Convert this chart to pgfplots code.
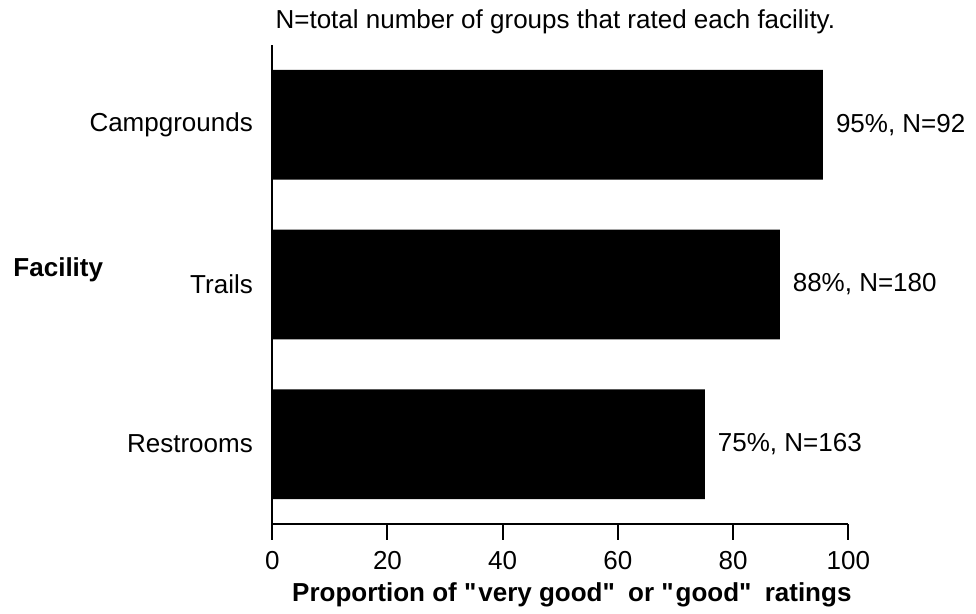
\documentclass[border=0pt]{standalone}
\usepackage{fontspec}
\setmainfont{Liberation Sans}
\usepackage{pgfplots}
\pgfplotsset{compat=1.18}
\begin{document}
\begin{tikzpicture}[font=\fontsize{13}{15.6}\selectfont]
\begin{axis}[
  name=ax,
  scale only axis,
  width=288pt, height=239.5pt,
  xbar,
  bar width=0.6875,
  xmin=0, xmax=100, ymin=-0.5, ymax=2.5,
  enlargelimits=false,
  axis lines=left,
  axis line style={-, line width=1pt},
  xtick={0,20,40,60,80,100},
  ytick={0,1,2},
  yticklabels={Restrooms,Trails,Campgrounds},
  ytick style={draw=none},
  xtick style={line width=1pt, black},
  tick align=outside,
  major tick length=8pt,
  /pgf/number format/assume math mode=true,
  yticklabel style={xshift=1.8pt},
  xticklabel style={yshift=-2pt},
  point meta=explicit symbolic,
  nodes near coords={\pgfplotspointmeta},
  nodes near coords style={anchor=west, xshift=3pt},
  clip=false,
  xlabel={Proportion of \textquotedbl\hspace{1pt}very good\textquotedbl\hspace{3pt}\ or \textquotedbl\hspace{1pt}good\textquotedbl\hspace{3pt}\ ratings},
  ylabel={Facility},
  every axis x label/.style={at={(axis description cs:0.52,-0.1608)}, anchor=base, inner sep=0pt, font=\fontsize{13}{15.6}\selectfont\bfseries},
  every axis y label/.style={at={(axis description cs:-0.450,0.5157)}, anchor=base west, inner sep=0pt, font=\fontsize{13}{15.6}\selectfont\bfseries},
  title={N=total number of groups that rated each facility.},
  every axis title/.style={at={(axis description cs:0.005,1.0334)}, anchor=base west, inner sep=0pt},
]
\addplot[fill=black, draw=none] coordinates {
  (75.1,0) [75\%, N=163]
  (88.1,1) [88\%, N=180]
  (95.6,2) [95\%, N=92]
};
\end{axis}
\pgfresetboundingbox
\path ([xshift=-136.15pt,yshift=-45pt]ax.south west) rectangle ([xshift=63.85pt,yshift=22.5pt]ax.north east);
\end{tikzpicture}
\end{document}
